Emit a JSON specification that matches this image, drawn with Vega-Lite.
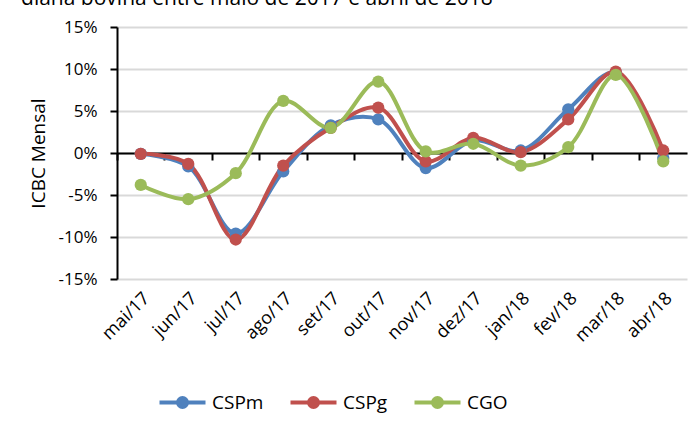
{
  "$schema": "https://vega.github.io/schema/vega-lite/v6.json",
  "width": 570,
  "height": 252,
  "autosize": {"type": "none"},
  "padding": {"left": 117, "top": 27, "right": 5, "bottom": 142},
  "background": "white",
  "title": {
    "text": "diana bovina entre maio de 2017 e abril de 2018",
    "anchor": "start",
    "dx": -8,
    "dy": 8,
    "offset": 0,
    "baseline": "alphabetic",
    "fontSize": 21,
    "font": "Open Sans",
    "fontWeight": "normal",
    "color": "#000000"
  },
  "config": {
    "view": {"stroke": null},
    "font": "Open Sans",
    "axis": {"labelFont": "Open Sans", "titleFont": "Open Sans", "labelColor": "#000", "titleColor": "#000"}
  },
  "data": {
    "values": [
      {"m": "mai/17", "s": "CSPm", "v": -0.1},
      {"m": "jun/17", "s": "CSPm", "v": -1.6},
      {"m": "jul/17", "s": "CSPm", "v": -9.6},
      {"m": "ago/17", "s": "CSPm", "v": -2.2},
      {"m": "set/17", "s": "CSPm", "v": 3.3},
      {"m": "out/17", "s": "CSPm", "v": 4.0},
      {"m": "nov/17", "s": "CSPm", "v": -1.8},
      {"m": "dez/17", "s": "CSPm", "v": 1.5},
      {"m": "jan/18", "s": "CSPm", "v": 0.3},
      {"m": "fev/18", "s": "CSPm", "v": 5.2},
      {"m": "mar/18", "s": "CSPm", "v": 9.6},
      {"m": "abr/18", "s": "CSPm", "v": -0.6},
      {"m": "mai/17", "s": "CSPg", "v": -0.1},
      {"m": "jun/17", "s": "CSPg", "v": -1.3},
      {"m": "jul/17", "s": "CSPg", "v": -10.3},
      {"m": "ago/17", "s": "CSPg", "v": -1.5},
      {"m": "set/17", "s": "CSPg", "v": 3.0},
      {"m": "out/17", "s": "CSPg", "v": 5.4},
      {"m": "nov/17", "s": "CSPg", "v": -1.0},
      {"m": "dez/17", "s": "CSPg", "v": 1.8},
      {"m": "jan/18", "s": "CSPg", "v": 0.1},
      {"m": "fev/18", "s": "CSPg", "v": 4.0},
      {"m": "mar/18", "s": "CSPg", "v": 9.7},
      {"m": "abr/18", "s": "CSPg", "v": 0.3},
      {"m": "mai/17", "s": "CGO", "v": -3.8},
      {"m": "jun/17", "s": "CGO", "v": -5.5},
      {"m": "jul/17", "s": "CGO", "v": -2.4},
      {"m": "ago/17", "s": "CGO", "v": 6.2},
      {"m": "set/17", "s": "CGO", "v": 3.0},
      {"m": "out/17", "s": "CGO", "v": 8.5},
      {"m": "nov/17", "s": "CGO", "v": 0.2},
      {"m": "dez/17", "s": "CGO", "v": 1.1},
      {"m": "jan/18", "s": "CGO", "v": -1.5},
      {"m": "fev/18", "s": "CGO", "v": 0.7},
      {"m": "mar/18", "s": "CGO", "v": 9.3},
      {"m": "abr/18", "s": "CGO", "v": -1.0}
    ]
  },
  "encoding": {
    "x": {
      "field": "m",
      "type": "nominal",
      "sort": null,
      "scale": {"type": "band", "paddingInner": 0, "paddingOuter": 0}
    },
    "y": {
      "field": "v",
      "type": "quantitative",
      "scale": {"domain": [-15, 15], "nice": false, "zero": false},
      "axis": {
        "values": [-15, -10, -5, 0, 5, 10, 15],
        "labelExpr": "datum.value + '%'",
        "labelFontSize": 17,
        "labelPadding": 13,
        "tickSize": 7,
        "tickColor": "#000",
        "tickWidth": 2,
        "domainColor": "#000",
        "domainWidth": 2,
        "gridColor": "#d9d9d9",
        "gridWidth": 2,
        "title": "ICBC Mensal",
        "titleFontSize": 19,
        "titleFontWeight": "normal",
        "titlePadding": 10
      }
    },
    "color": {
      "field": "s",
      "type": "nominal",
      "sort": ["CSPm", "CSPg", "CGO"],
      "scale": {"domain": ["CSPm", "CSPg", "CGO"], "range": ["#4F81BD", "#C0504D", "#9BBB59"]},
      "legend": {
        "title": null,
        "orient": "none",
        "legendX": 38,
        "legendY": 366,
        "direction": "horizontal",
        "labelFontSize": 19,
        "labelFont": "Open Sans",
        "labelColor": "#000",
        "symbolType": "M-4.6,0H4.6M-0.9,0A0.9,0.9 0 1,0 0.9,0A0.9,0.9 0 1,0 -0.9,0",
        "symbolSize": 100,
        "symbolStrokeWidth": 4,
        "symbolOffset": 18,
        "labelOffset": 20,
        "columnPadding": 18,
        "encode": {
          "symbols": {
            "update": {
              "fill": {"scale": "color", "field": "value"},
              "stroke": {"scale": "color", "field": "value"}
            }
          }
        }
      }
    }
  },
  "layer": [
    {
      "mark": {"type": "line", "interpolate": "catmull-rom", "strokeWidth": 4},
      "encoding": {
        "x": {
          "field": "m",
          "type": "nominal",
          "sort": null,
          "axis": {
            "title": null,
            "orient": "bottom",
            "domain": false,
            "ticks": false,
            "grid": false,
            "labelAngle": -45,
            "labelFontSize": 18,
            "labelPadding": 10
          }
        }
      }
    },
    {
      "mark": {"type": "point", "filled": true, "opacity": 1, "size": 150},
      "encoding": {
        "x": {
          "field": "m",
          "type": "nominal",
          "sort": null,
          "axis": {
            "title": null,
            "orient": "bottom",
            "offset": -126,
            "labels": false,
            "domain": true,
            "domainColor": "#000",
            "domainWidth": 2,
            "ticks": true,
            "tickColor": "#000",
            "tickWidth": 2,
            "tickSize": 7,
            "bandPosition": 0,
            "grid": false
          }
        }
      }
    }
  ],
  "resolve": {"axis": {"x": "independent"}}
}
